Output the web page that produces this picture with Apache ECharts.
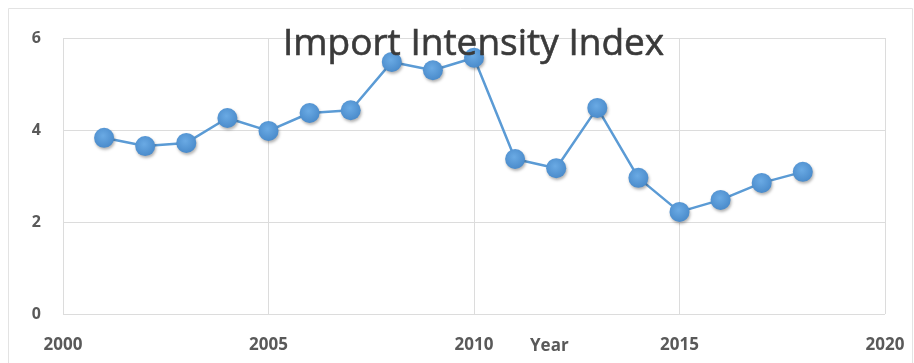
<!DOCTYPE html>
<html>
<head>
<meta charset="utf-8">
<script src="https://cdn.jsdelivr.net/npm/echarts@6/dist/echarts.min.js"></script>
<style>
  html, body { margin: 0; padding: 0; background: #fff; }
  #chart { width: 914px; height: 363px; }
</style>
</head>
<body>
<div id="chart"></div>
<script>
// 数据
var years = [2001, 2002, 2003, 2004, 2005, 2006, 2007, 2008, 2009, 2010, 2011, 2012, 2013, 2014, 2015, 2016, 2017, 2018];
var index_values = [3.83, 3.65, 3.72, 4.26, 3.98, 4.37, 4.43, 5.48, 5.30, 5.57, 3.37, 3.17, 4.48, 2.96, 2.22, 2.48, 2.85, 3.09];

var chart = echarts.init(document.getElementById('chart'));

var seriesData = years.map(function (y, i) { return [y, index_values[i]]; });

var option = {
    backgroundColor: '#fff',
    animation: false,
    title: {
        text: 'Import Intensity Index',
        left: 278,
        top: 21,
        textStyle: {
            color: '#3a3a3a',
            fontFamily: 'Open Sans',
            fontWeight: 'normal',
            fontSize: 37,
            textBorderColor: '#3a3a3a',
            textBorderWidth: 0.6
        }
    },
    graphic: [{
        type: 'rect',
        shape: { x: 8.5, y: 8.5, width: 904, height: 360 },
        style: { fill: 'none', stroke: '#e3e3e3', lineWidth: 1 },
        silent: true
    }, {
        type: 'text',
        left: 530,
        top: 338,
        style: {
            text: 'Year',
            fill: '#595959',
            font: 'bold 17px "Open Sans"'
        }
    }],
    grid: {
        left: 63,
        right: 29,
        top: 38,
        bottom: 49
    },
    xAxis: {
        type: 'value',
        min: 2000,
        max: 2020,
        interval: 5,
        axisLine: { show: false },
        axisTick: { show: false },
        axisLabel: {
            color: '#595959',
            fontFamily: 'Open Sans',
            fontWeight: 'bold',
            fontSize: 17,
            margin: 23,
            formatter: function (v) { return String(v); }
        },
        splitLine: { show: true, lineStyle: { color: '#dcdcdc', width: 1 } }
    },
    yAxis: {
        type: 'value',
        min: 0,
        max: 6,
        interval: 2,
        axisLine: { show: false },
        axisTick: { show: false },
        axisLabel: {
            color: '#595959',
            fontFamily: 'Open Sans',
            fontWeight: 'bold',
            fontSize: 16,
            margin: 22
        },
        splitLine: { show: true, lineStyle: { color: '#dcdcdc', width: 1 } }
    },
    series: [{
        name: 'Import Intensity Index',
        type: 'line',
        data: seriesData,
        symbol: 'circle',
        symbolSize: 20,
        lineStyle: { color: '#5b9bd5', width: 2.5 },
        itemStyle: {
            color: {
                type: 'radial', x: 0.45, y: 0.4, r: 0.6,
                colorStops: [{ offset: 0, color: '#6aaae4' }, { offset: 1, color: '#4a8bcb' }]
            },
            shadowColor: 'rgba(0,0,0,0.3)',
            shadowBlur: 3,
            shadowOffsetX: 1,
            shadowOffsetY: 2
        }
    }]
};
chart.setOption(option);
</script>
</body>
</html>
